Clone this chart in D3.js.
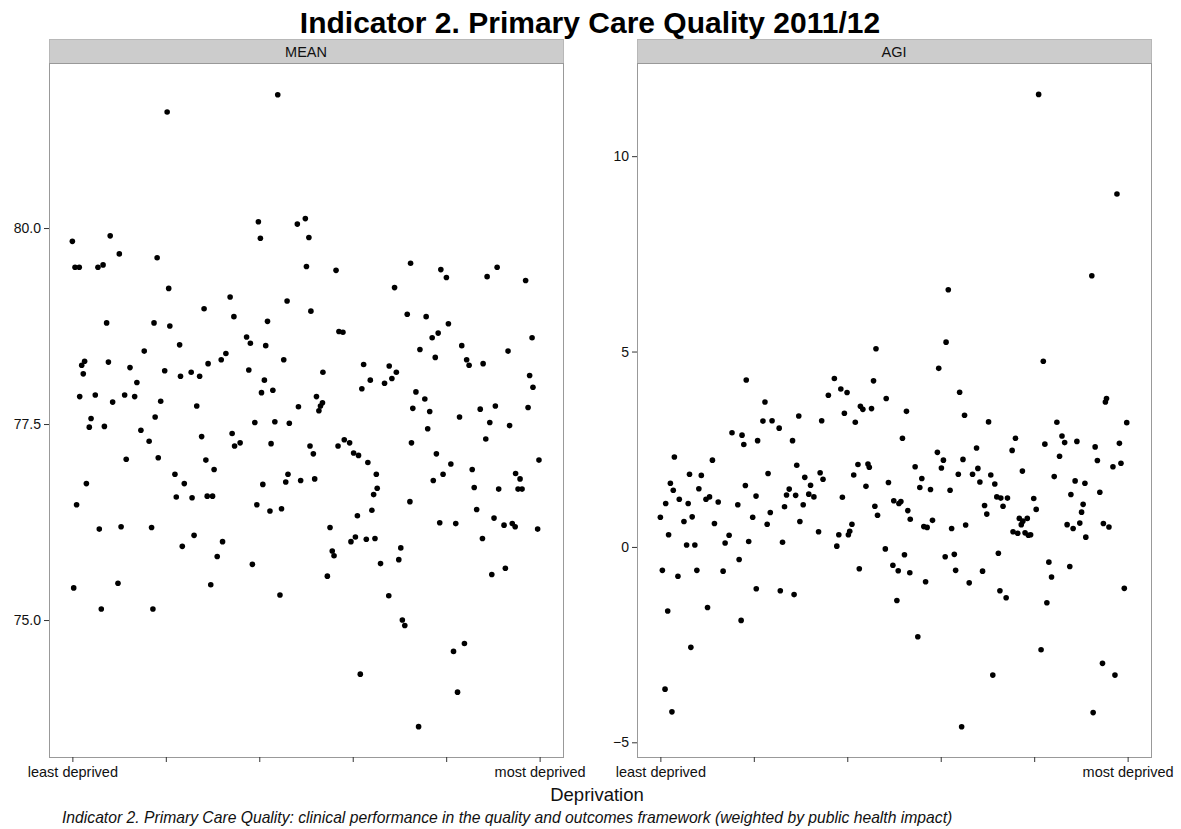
<!DOCTYPE html>
<html>
<head>
<meta charset="utf-8">
<script src="https://cdn.jsdelivr.net/npm/d3@7"></script>
<style>
  html, body { margin: 0; padding: 0; background: #fff; }
  svg { display: block; font-family: "Liberation Sans", Arial, sans-serif; }
</style>
</head>
<body>
<svg id="chart" width="1181" height="829"></svg>
<script>
// ---------------- DATA ----------------
const chartTitle = "Indicator 2. Primary Care Quality 2011/12";
const captionText = "Indicator 2. Primary Care Quality: clinical performance in the quality and outcomes framework (weighted by public health impact)";
const xAxisTitle = "Deprivation";
const panelNames = ["MEAN", "AGI"];

const xTickRanks = [1, 43, 85, 127, 169, 211];
const xTickLabels = ["least deprived", "", "", "", "", "most deprived"];
const meanTicks = [75.0, 77.5, 80.0];
const agiTicks = [-5, 0, 5, 10];

// deprivation rank (1 = least deprived) and MEAN value
const meanRank = [
  1.0, 1.6, 2.2, 2.9, 4.1, 4.3, 5.2, 5.9, 6.5, 7.3, 8.6, 9.4, 11.3, 12.5, 13.1, 14.0, 14.8, 15.4, 16.4, 17.2,
  18.0, 19.1, 21.5, 22.1, 22.9, 24.5, 25.2, 26.9, 29.0, 30.0, 31.8, 33.3, 35.5, 36.6, 37.2, 37.7, 38.2, 39.1, 39.6, 40.7,
  42.5, 43.6, 44.3, 44.8, 47.1, 47.7, 49.2, 49.6, 50.4, 51.3, 54.4, 54.8, 55.7, 56.9, 58.2, 59.1, 60.2, 61.0, 61.6, 62.0,
  63.2, 64.0, 64.7, 66.1, 67.9, 68.5, 70.0, 71.9, 72.8, 73.6, 73.9, 76.4, 79.3, 80.3, 81.0, 81.9, 83.0, 83.9, 84.6, 85.5,
  86.0, 86.6, 87.3, 87.9, 88.7, 89.8, 90.3, 91.1, 92.0, 93.3, 94.3, 95.0, 96.0, 96.9, 97.5, 97.9, 98.5, 102.1, 102.6, 103.6,
  105.7, 106.2, 107.3, 107.8, 108.2, 109.3, 109.9, 110.7, 111.8, 112.5, 113.4, 113.6, 115.6, 116.8, 117.8, 118.6, 119.5, 120.4, 120.8, 122.6,
  123.2, 125.6, 126.2, 127.4, 128.2, 129.1, 129.6, 130.4, 131.1, 131.9, 133.1, 133.8, 134.9, 135.6, 136.4, 137.0, 137.6, 138.0, 139.5, 141.3,
  143.2, 143.4, 144.6, 145.8, 146.6, 147.7, 148.6, 149.3, 150.4, 151.5, 152.7, 153.0, 153.4, 154.0, 155.4, 156.6, 157.2, 159.4, 160.0, 160.7,
  161.6, 162.7, 163.2, 164.1, 164.6, 165.4, 166.1, 166.6, 167.6, 169.1, 170.0, 171.1, 172.3, 173.3, 174.1, 175.0, 176.0, 177.2, 178.2, 179.3,
  180.7, 181.6, 182.7, 184.3, 185.3, 185.6, 186.8, 187.4, 188.6, 189.5, 190.5, 191.1, 191.9, 192.6, 195.0, 195.6, 196.8, 197.5, 198.7, 200.0,
  200.2, 201.3, 202.2, 203.1, 204.7, 205.8, 206.5, 207.6, 208.0, 210.1, 210.7
];
const meanValue = [
  79.83, 75.41, 79.50, 76.47, 79.50, 77.85, 78.25, 78.14, 78.30, 76.74, 77.46, 77.57, 77.87, 79.50, 76.16, 75.14, 79.53, 77.47, 78.79, 78.29,
  79.90, 77.78, 75.47, 79.67, 76.19, 77.87, 77.05, 78.22, 77.85, 78.03, 77.42, 78.43, 77.28, 76.18, 75.14, 78.79, 77.59, 79.62, 77.07, 77.79,
  78.18, 81.48, 79.23, 78.75, 76.86, 76.57, 78.51, 78.11, 75.94, 76.74, 78.16, 76.56, 76.08, 77.73, 78.11, 77.34, 78.97, 77.04, 76.58, 78.27,
  75.45, 76.58, 76.92, 75.81, 78.32, 76.00, 78.40, 79.12, 77.38, 78.87, 77.22, 77.26, 78.61, 78.19, 78.53, 75.71, 77.52, 76.47, 80.08, 79.87,
  77.90, 76.73, 78.06, 78.50, 78.81, 76.39, 77.25, 77.93, 77.53, 81.70, 75.32, 76.42, 78.32, 76.76, 79.07, 76.86, 77.51, 80.05, 77.72, 76.78,
  80.12, 79.51, 79.88, 77.22, 78.94, 77.12, 76.80, 77.85, 77.67, 77.73, 77.77, 78.16, 75.56, 76.18, 75.88, 75.82, 79.46, 77.22, 78.68, 78.67,
  77.30, 77.26, 76.00, 77.13, 76.06, 76.33, 77.10, 74.31, 77.95, 78.26, 76.03, 77.01, 78.06, 76.40, 76.60, 76.04, 76.86, 76.68, 75.72, 78.02,
  75.31, 78.24, 78.08, 79.24, 78.16, 75.77, 75.92, 75.00, 74.93, 78.90, 76.51, 79.55, 77.26, 77.70, 77.91, 73.64, 78.45, 77.82, 78.87, 77.44,
  77.66, 78.60, 76.78, 78.35, 77.12, 78.66, 76.24, 79.47, 76.86, 79.37, 78.78, 76.99, 74.60, 76.23, 74.08, 77.59, 78.50, 74.70, 78.32, 78.25,
  76.92, 76.69, 76.41, 77.69, 76.04, 78.27, 77.31, 79.38, 77.52, 75.58, 76.30, 77.73, 79.50, 76.67, 76.21, 75.66, 78.43, 77.48, 76.23, 76.19,
  76.87, 76.67, 76.80, 76.67, 79.33, 77.71, 78.12, 78.60, 77.97, 76.16, 77.04
];

// deprivation rank and AGI value
const agiRank = [
  1.0, 1.9, 3.1, 3.4, 4.3, 4.7, 5.5, 6.2, 6.8, 7.3, 8.9, 9.5, 11.6, 12.8, 13.5, 14.1, 14.7, 15.3, 16.5, 17.4,
  18.3, 19.4, 21.5, 22.2, 23.1, 24.4, 25.3, 27.0, 29.2, 30.1, 31.9, 33.2, 35.8, 36.4, 37.3, 37.7, 38.5, 39.2, 39.6, 40.7,
  42.5, 44.0, 44.1, 44.7, 47.1, 48.0, 49.0, 49.4, 50.4, 51.2, 54.4, 54.9, 55.9, 56.8, 57.7, 58.9, 60.4, 61.1, 61.8, 62.3,
  63.2, 63.7, 65.2, 65.9, 67.7, 68.5, 70.0, 72.1, 72.8, 73.5, 74.1, 76.5, 79.2, 80.3, 81.2, 82.1, 82.8, 83.7, 84.9, 85.5,
  86.1, 87.1, 87.9, 88.6, 89.8, 90.4, 90.9, 92.0, 93.4, 94.3, 94.9, 95.9, 96.8, 97.4, 97.9, 98.6, 102.1, 102.5, 103.5, 105.5,
  105.9, 107.3, 107.9, 108.2, 109.1, 109.8, 110.7, 111.6, 112.2, 113.1, 113.3, 115.5, 116.7, 117.6, 118.5, 119.4, 120.2, 120.9, 122.4, 123.3,
  125.5, 126.1, 127.3, 128.2, 129.0, 129.4, 130.4, 131.2, 131.9, 133.1, 133.7, 134.9, 135.5, 136.4, 137.0, 137.7, 138.2, 139.8, 141.3, 143.1,
  143.7, 144.6, 145.8, 146.7, 147.7, 148.5, 149.5, 150.4, 151.3, 152.2, 152.9, 153.6, 154.0, 155.0, 156.4, 157.0, 159.1, 159.5, 160.6, 161.6,
  162.3, 163.2, 163.7, 163.9, 164.9, 165.9, 166.4, 167.4, 168.8, 169.9, 171.0, 172.1, 173.1, 173.8, 174.7, 175.6, 176.8, 178.0, 179.2, 180.4,
  181.5, 182.7, 183.8, 185.0, 185.5, 186.5, 187.4, 188.2, 189.5, 190.3, 191.0, 191.8, 192.2, 194.9, 195.5, 196.4, 197.4, 198.5, 199.7, 200.1,
  201.0, 201.5, 202.6, 204.4, 205.3, 206.2, 207.3, 208.0, 209.5, 210.6
];
const agiValue = [
  0.76, -0.60, -3.64, 1.11, -1.64, 0.31, 1.63, -4.22, 1.45, 2.30, -0.75, 1.22, 0.65, 0.05, 1.11, 1.86, -2.57, 0.77, 0.05, -0.60,
  1.49, 1.83, 1.22, -1.55, 1.28, 2.22, 0.60, 1.15, -0.62, 0.10, 0.30, 2.92, 1.08, -0.32, -1.88, 2.86, 2.62, 1.57, 4.27, 0.14,
  0.76, 1.30, -1.07, 2.72, 3.22, 3.71, 0.58, 1.88, 0.88, 3.23, 3.04, -1.12, 0.12, 1.03, 1.33, 1.48, 2.72, -1.22, 1.32, 2.09,
  3.35, 0.65, 1.08, 1.78, 1.35, 1.58, 1.28, 0.39, 1.90, 3.23, 1.73, 3.88, 4.31, 0.02, 0.31, 4.04, 1.27, 3.42, 3.95, 0.31,
  0.40, 0.58, 1.84, 3.19, 2.11, -0.56, 3.60, 3.52, 1.55, 2.12, 2.04, 3.54, 4.25, 1.04, 5.07, 0.81, -0.05, 3.80, 1.65, -0.47,
  1.18, -1.37, -0.61, 1.11, 1.16, 2.78, -0.20, 3.47, 0.93, -0.66, 0.71, 2.05, -2.30, 1.52, 1.75, 0.52, -0.89, 0.50, 1.47, 0.68,
  2.42, 4.57, 2.02, 2.22, -0.25, 5.24, 6.58, 1.45, 0.47, -0.19, -0.60, 1.86, 3.96, -4.60, 2.24, 3.37, 0.56, -0.92, 1.86, 2.53,
  2.01, 1.66, -0.62, 1.06, 0.84, 3.20, 1.84, -3.28, 1.61, 1.28, -0.16, -1.12, 1.25, 1.04, -1.30, 1.25, 2.47, 0.39, 2.78, 0.35,
  0.73, 0.57, 1.94, 0.66, 0.36, 0.73, 0.30, 0.31, 1.24, 0.96, 11.58, -2.63, 4.75, 2.63, -1.43, -0.39, -0.77, 1.80, 3.19, 2.32,
  2.84, 2.67, 0.57, -0.50, 1.34, 0.47, 1.69, 2.70, 0.61, 0.89, 1.09, 1.63, 0.25, 6.94, -4.24, 2.56, 2.21, 1.40, -2.98, 0.60,
  3.71, 3.80, 0.51, 2.05, -3.28, 9.03, 2.65, 2.14, -1.06, 3.18
];

// ---------------- DRAWING ----------------
const svg = d3.select("#chart");
const TEXT = "#111";

const panels = [
  { name: panelNames[0], x0: 49, x1: 563, yDomain: [73.253, 82.105], ticks: meanTicks, fmt: d3.format(".1f"),
    pts: meanRank.map((r, i) => ({ r, v: meanValue[i] })) },
  { name: panelNames[1], x0: 637, x1: 1151, yDomain: [-5.376, 12.384], ticks: agiTicks, fmt: d3.format("d"),
    pts: agiRank.map((r, i) => ({ r, v: agiValue[i] })) }
];
const stripTop = 39, panelTop = 63, panelBottom = 757;

// title
svg.append("text")
  .attr("x", 590).attr("y", 33)
  .attr("text-anchor", "middle")
  .attr("font-size", 30).attr("font-weight", "bold")
  .attr("fill", "#000")
  .text(chartTitle);

panels.forEach(p => {
  const x = d3.scaleLinear().domain([-9.5, 221.5]).range([p.x0, p.x1]);
  const y = d3.scaleLinear().domain(p.yDomain).range([panelBottom, panelTop]);

  // strip
  svg.append("rect")
    .attr("x", p.x0 + 0.5).attr("y", stripTop + 0.5)
    .attr("width", p.x1 - p.x0).attr("height", panelTop - stripTop)
    .attr("fill", "#cccccc").attr("stroke", "#b8b8b8").attr("stroke-width", 1);
  svg.append("text")
    .attr("x", (p.x0 + p.x1) / 2).attr("y", 57)
    .attr("text-anchor", "middle").attr("font-size", 14.5).attr("fill", TEXT)
    .text(p.name);

  // panel background + border
  svg.append("rect")
    .attr("x", p.x0 + 0.5).attr("y", panelTop + 0.5)
    .attr("width", p.x1 - p.x0).attr("height", panelBottom - panelTop)
    .attr("fill", "#fff").attr("stroke", "#999999").attr("stroke-width", 1);

  // y axis
  const yAxis = d3.axisLeft(y).tickValues(p.ticks).tickFormat(p.fmt).tickSize(5).tickPadding(3);
  const gy = svg.append("g").attr("transform", `translate(${p.x0},0)`).call(yAxis);
  gy.select(".domain").remove();
  gy.selectAll(".tick line").attr("stroke", "#333").attr("stroke-width", 1);
  gy.selectAll(".tick text").attr("font-size", 14).attr("fill", TEXT)
    .attr("font-family", '"Liberation Sans", Arial, sans-serif');

  // x axis
  const xAxis = d3.axisBottom(x).tickValues(xTickRanks)
    .tickFormat((d, i) => xTickLabels[i]).tickSize(5).tickPadding(5);
  const gx = svg.append("g").attr("transform", `translate(0,${panelBottom})`).call(xAxis);
  gx.select(".domain").remove();
  gx.selectAll(".tick line").attr("stroke", "#333").attr("stroke-width", 1);
  gx.selectAll(".tick text").attr("font-size", 14.5).attr("fill", TEXT)
    .attr("font-family", '"Liberation Sans", Arial, sans-serif');

  // points
  svg.append("g").selectAll("circle")
    .data(p.pts).enter().append("circle")
    .attr("cx", d => x(d.r)).attr("cy", d => y(d.v))
    .attr("r", 2.8).attr("fill", "#000");
});

// x axis title
svg.append("text")
  .attr("x", 597).attr("y", 801)
  .attr("text-anchor", "middle").attr("font-size", 18.5).attr("fill", TEXT)
  .text(xAxisTitle);

// caption
svg.append("text")
  .attr("x", 62).attr("y", 823)
  .attr("font-size", 15.7).attr("font-style", "italic").attr("fill", TEXT)
  .text(captionText);
</script>
</body>
</html>
